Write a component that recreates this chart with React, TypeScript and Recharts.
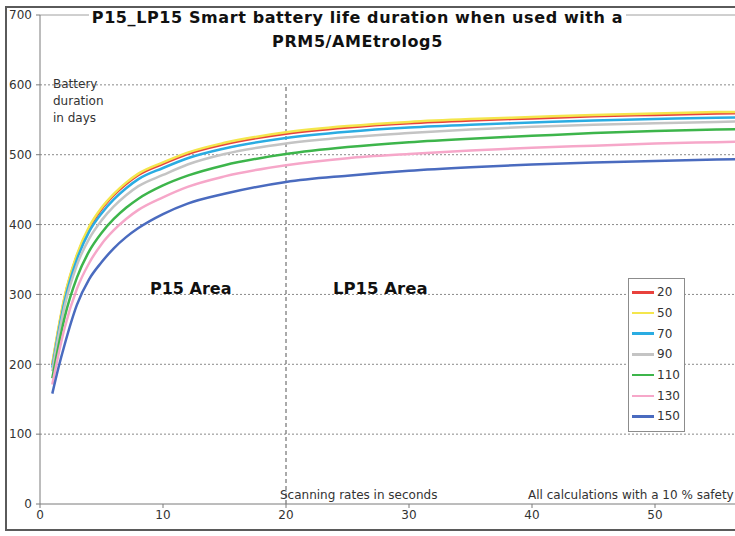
import { Legend, Line, LineChart, ReferenceLine, XAxis, YAxis } from "recharts";

// scanning rate in seconds (x) and battery duration in days, one array per setting
const scanRates = [1, 1.5, 2, 3, 4, 5, 6, 7, 8, 10, 12, 15, 20, 25, 30, 35, 40, 45, 50, 55, 60];

const days20 = [199, 250, 295, 355, 395, 422, 442, 458, 471, 487, 501, 515, 530, 539, 545, 549, 552, 555, 557, 559, 560];
const days50 = [201, 252, 297, 357, 397, 424, 444, 460, 473, 489, 503, 517, 532, 541, 547, 551, 554, 557, 559, 561, 562];
const days70 = [195, 246, 290, 350, 390, 416, 436, 452, 465, 481, 495, 509, 524, 533, 539, 543, 546, 549, 551, 553, 554];
const days90 = [190, 240, 283, 342, 380, 406, 426, 442, 455, 471, 486, 501, 516, 525, 531, 536, 540, 543, 545, 547, 549];
const days110 = [180, 226, 267, 324, 362, 388, 408, 424, 437, 456, 470, 485, 501, 511, 518, 523, 527, 531, 534, 536, 538];
const days130 = [171, 214, 252, 308, 345, 372, 392, 408, 421, 439, 454, 469, 485, 495, 501, 506, 510, 513, 516, 518, 520];
const days150 = [158, 195, 228, 285, 322, 346, 366, 382, 395, 415, 430, 444, 461, 470, 477, 482, 486, 489, 491, 493, 495];

const xTicks = [0, 10, 20, 30, 40, 50];
const yTicks = [0, 100, 200, 300, 400, 500, 600, 700];
const gridLines = [100, 200, 300, 400, 500, 600];

const SERIES = [
  { key: "s20", name: "20", color: "#e8413c", values: days20 },
  { key: "s50", name: "50", color: "#f4e64c", values: days50 },
  { key: "s70", name: "70", color: "#2aace2", values: days70 },
  { key: "s90", name: "90", color: "#c4c4c4", values: days90 },
  { key: "s110", name: "110", color: "#3db54b", values: days110 },
  { key: "s130", name: "130", color: "#f6a7c9", values: days130 },
  { key: "s150", name: "150", color: "#4a6bbf", values: days150 },
];

const data = scanRates.map((x, i) => {
  const row: Record<string, number> = { x };
  SERIES.forEach((s) => (row[s.key] = s.values[i]));
  return row;
});

const SMALL = "'DejaVu Sans', Verdana, sans-serif";
const TEXT = "#333";
const AXIS = "#7a7a7a";

// recharts sorts legend items by name, so the box is built from SERIES to keep 20..150 order
function LegendBox() {
  return (
    <div style={{ border: "1px solid #8c8c8c", background: "#fff", padding: "3px 0 4px 3px", width: 52 }}>
      {SERIES.map((s) => (
        <div key={s.key} style={{ display: "flex", alignItems: "center", height: 20.7 }}>
          <span style={{ width: 22, height: 2.5, background: s.color, marginRight: 3 }} />
          <span style={{ fontFamily: SMALL, fontSize: 12, color: TEXT }}>{s.name}</span>
        </div>
      ))}
    </div>
  );
}

const abs = (left: number, top: number, extra: React.CSSProperties = {}): React.CSSProperties => ({
  position: "absolute",
  left,
  top,
  fontFamily: SMALL,
  fontSize: 12,
  color: TEXT,
  whiteSpace: "nowrap",
  ...extra,
});

export default function App() {
  return (
    <div style={{ position: "absolute", left: 0, top: 0, width: 735, height: 536, overflow: "hidden", background: "#fff" }}>
      <div
        style={{
          position: "absolute",
          left: 5,
          top: 6,
          width: 900,
          height: 525,
          boxSizing: "border-box",
          border: "2px solid #5a5a5a",
        }}
      />
      <div style={{ position: "absolute", left: 0, top: 0 }}>
        <LineChart width={800} height={536} data={data} margin={{ top: 15, right: 22, left: 4, bottom: 4 }}>
          {gridLines.map((v) => (
            <ReferenceLine key={v} y={v} stroke="#8a8a8a" strokeDasharray="2 2" strokeWidth={1} />
          ))}
          <ReferenceLine y={700} stroke="#a0a0a0" strokeWidth={1} />
          <ReferenceLine
            segment={[
              { x: 20, y: 0 },
              { x: 20, y: 600 },
            ]}
            stroke="#555"
            strokeDasharray="4 3"
            strokeWidth={1}
          />
          <XAxis
            dataKey="x"
            type="number"
            domain={[0, 60]}
            ticks={xTicks}
            stroke={AXIS}
            tickSize={4}
            height={28}
            tick={{ fontSize: 12, fill: TEXT, fontFamily: SMALL }}
          />
          <YAxis
            domain={[0, 700]}
            ticks={yTicks}
            stroke={AXIS}
            width={36}
            tickSize={4}
            tickMargin={4}
            tick={{ fontSize: 12, fill: TEXT, fontFamily: SMALL }}
          />
          <Legend
            layout="vertical"
            align="center"
            verticalAlign="middle"
            wrapperStyle={{ left: 628, top: 278, width: 56 }}
            content={<LegendBox />}
          />
          {SERIES.map((s) => (
            <Line
              key={s.key}
              dataKey={s.key}
              name={s.name}
              type="monotone"
              stroke={s.color}
              strokeWidth={2.5}
              dot={false}
              isAnimationActive={false}
            />
          ))}
        </LineChart>
      </div>

      {/* white patch that breaks the 700 line behind the title */}
      <div style={{ position: "absolute", left: 89, top: 10, width: 537, height: 12, background: "#fff" }} />
      <div
        style={{
          position: "absolute",
          left: 37,
          top: 6,
          width: 641,
          textAlign: "center",
          whiteSpace: "nowrap",
          fontFamily: "Tahoma, 'DejaVu Sans', sans-serif",
          fontWeight: "bold",
          fontSize: 16,
          letterSpacing: 0.6,
          lineHeight: "23.5px",
          color: "#111",
        }}
      >
        P15_LP15 Smart battery life duration when used with a
        <br />
        PRM5/AMEtrolog5
      </div>

      <div style={abs(53, 76, { lineHeight: "17px" })}>
        Battery
        <br />
        duration
        <br />
        in days
      </div>
      <div style={abs(150, 279, { fontSize: 16, fontWeight: "bold", color: "#111" })}>P15 Area</div>
      <div style={abs(333, 279, { fontSize: 16.5, fontWeight: "bold", color: "#111" })}>LP15 Area</div>
      <div style={abs(280, 488)}>Scanning rates in seconds</div>
      <div style={abs(528, 488)}>All calculations with a 10 % safety</div>
    </div>
  );
}
